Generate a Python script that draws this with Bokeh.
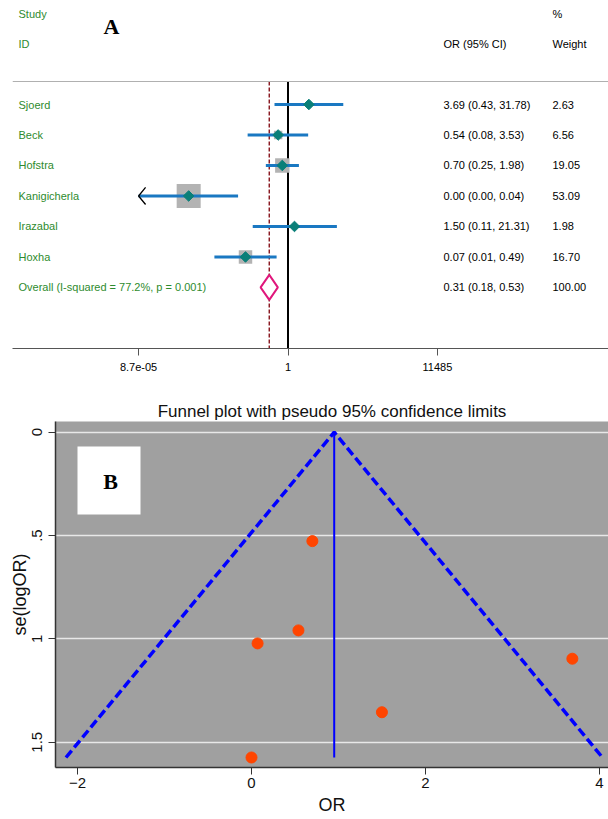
import math
from bokeh.plotting import figure
from bokeh.models import Range1d, FixedTicker, CustomJSTickFormatter, Span
from bokeh.layouts import column
from bokeh.embed import file_html
from bokeh.resources import INLINE
from bokeh.core.properties import value

# ---------------- data ----------------
studies = ["Sjoerd", "Beck", "Hofstra", "Kanigicherla", "Irazabal", "Hoxha"]
odds_ratio = [3.69, 0.54, 0.70, 0.002, 1.50, 0.07]
ci_low = [0.43, 0.08, 0.25, 0.00005, 0.11, 0.01]
ci_high = [31.78, 3.53, 1.98, 0.044, 21.31, 0.49]
weight_pct = [2.63, 6.56, 19.05, 53.09, 1.98, 16.70]

overall_label = "Overall  (I-squared = 77.2%, p = 0.001)"
overall_or = 0.31
overall_low = 0.18
overall_high = 0.53
overall_weight = 100.00

forest_ticks = [8.7e-05, 1, 11485]
forest_tick_labels = ["8.7e-05", "1", "11485"]

funnel_or = [3.69, 0.54, 0.70, 0.00, 1.50, 0.07]
funnel_se = [1.096, 0.959, 0.527, 1.574, 1.355, 1.022]
funnel_xticks = [-2, 0, 2, 4]
funnel_yticks = [0, 0.5, 1, 1.5]
funnel_ytick_labels = ["0", ".5", "1", "1.5"]

# ---------------- styles ----------------
SANS = value("Liberation Sans")
SERIF = value("Liberation Serif")
GREEN = "#2e8b2e"
CI_BLUE = "#1a78c2"
TEAL = "#0a7f78"
BOX_GREY = "#b3b3b3"
PINK = "#e0177c"
DARKRED = "#8b1c24"

# layout helpers (page pixel -> data coordinate)
F_ONE_PX = 287.5
F_PX_DEC = 36.8
F_ROW0 = 104.0
F_ROW = 30.49


def fx(px):
    return 10 ** ((px - F_ONE_PX) / F_PX_DEC)


def fy(py):
    return (py - F_ROW0) / F_ROW


# ---------------- forest plot (A) ----------------
p1 = figure(width=608, height=385, x_axis_type="log",
            x_range=Range1d(fx(12), fx(608)), y_range=Range1d(fy(348), fy(8)),
            output_backend="svg", toolbar_location=None,
            min_border_left=12, min_border_right=0, min_border_top=8, min_border_bottom=37,
            y_axis_location=None, outline_line_color=None)
p1.frame_align = False
p1.grid.visible = False

rows = list(range(len(studies)))
overall_row = len(studies)
sep_row = fy(81)
axis_row = fy(348)

p1.add_layout(Span(location=sep_row, dimension="width", line_color="#b0b0b0", line_width=1))
p1.segment(x0=[1], y0=[sep_row], x1=[1], y1=[axis_row], line_color="black", line_width=2)
p1.segment(x0=[overall_or], y0=[sep_row], x1=[overall_or], y1=[axis_row],
           line_color=DARKRED, line_width=1.5, line_dash="4 2")

# weight boxes
wmax = max(weight_pct)
box_sizes = [24 * math.sqrt(w / wmax) for w in weight_pct]
p1.scatter(odds_ratio, rows, marker="square", size=box_sizes, fill_color=BOX_GREY, line_color=None)

# CI lines (clipped to axis range)
xmin = forest_ticks[0]
lo_draw = [max(l, xmin) for l in ci_low]
p1.segment(x0=lo_draw, y0=rows, x1=ci_high, y1=rows, line_color=CI_BLUE, line_width=3)

# arrows for clipped CIs
arm = 10 ** (7 / F_PX_DEC)
ax, ay = [], []
for l, r in zip(ci_low, rows):
    if l < xmin:
        ax.append([xmin * arm, xmin, xmin * arm])
        ay.append([r - 0.28, r, r + 0.28])
if ax:
    p1.multi_line(ax, ay, line_color="black", line_width=1.3)

# point estimates
p1.scatter(odds_ratio, rows, marker="square", angle=math.pi / 4, size=7.5,
           fill_color=TEAL, line_color=TEAL)

# overall diamond
dh = 12.5 / F_ROW
p1.patch([overall_low, overall_or, overall_high, overall_or],
         [overall_row, overall_row - dh, overall_row, overall_row + dh],
         fill_color="white", line_color=PINK, line_width=2)

# texts
tstyle = dict(text_font=SANS, text_font_size="11px", text_baseline="middle", text_align="left")
p1.text(x=[fx(18)] * 2, y=[fy(13), fy(43)], text=["Study", "ID"], text_color=GREEN, **tstyle)
p1.text(x=[fx(443), fx(552), fx(552)], y=[fy(43), fy(13), fy(43)],
        text=["OR (95% CI)", "%", "Weight"], text_color="black", **tstyle)
p1.text(x=[fx(18)] * (len(studies) + 1), y=rows + [overall_row],
        text=studies + [overall_label], text_color=GREEN, **tstyle)
ci_txt = [f"{o:.2f} ({l:.2f}, {h:.2f})" for o, l, h in zip(odds_ratio, ci_low, ci_high)]
ci_txt.append(f"{overall_or:.2f} ({overall_low:.2f}, {overall_high:.2f})")
w_txt = [f"{w:.2f}" for w in weight_pct] + [f"{overall_weight:.2f}"]
p1.text(x=[fx(443)] * len(ci_txt), y=rows + [overall_row], text=ci_txt, text_color="black", **tstyle)
p1.text(x=[fx(552)] * len(w_txt), y=rows + [overall_row], text=w_txt, text_color="black", **tstyle)
p1.text(x=[fx(111)], y=[fy(26)], text=["A"], text_font=SERIF, text_font_style="bold",
        text_font_size="22px", text_align="center", text_baseline="middle", text_color="black")

xa = p1.xaxis[0]
xa.ticker = FixedTicker(ticks=forest_ticks, minor_ticks=[])
xa.formatter = CustomJSTickFormatter(args=dict(tv=forest_ticks, tl=forest_tick_labels), code="""
let best = 0, bd = Infinity;
for (let i = 0; i < tv.length; i++) {
  const d = Math.abs(Math.log(tick) - Math.log(tv[i]));
  if (d < bd) { bd = d; best = i; }
}
return tl[best];
""")
xa.axis_line_color = "#555555"
xa.major_tick_line_color = "#555555"
xa.major_tick_out = 7
xa.major_tick_in = 0
xa.minor_tick_line_color = None
xa.major_label_text_font = "Liberation Sans"
xa.major_label_text_font_size = "11px"
xa.major_label_text_color = "black"
xa.major_label_standoff = 7

# ---------------- funnel plot (B) ----------------
TOP2 = 385
G_ZERO_X = 251.0
G_PX_X = 86.95
G_ZERO_Y = 431.7
G_PX_Y = 206.67


def gx(px):
    return (px - G_ZERO_X) / G_PX_X


def gy(py):
    return (py - G_ZERO_Y) / G_PX_Y


p2 = figure(width=608, height=434,
            x_range=Range1d(gx(55), gx(608)), y_range=Range1d(gy(767), gy(421)),
            output_backend="svg", toolbar_location=None,
            min_border_left=55, min_border_right=0, min_border_top=421 - TOP2, min_border_bottom=819 - 767,
            background_fill_color="#a0a0a0", border_fill_color="white",
            outline_line_color=None)
p2.frame_align = False
p2.title.text = "Funnel plot with pseudo 95% confidence limits"
p2.title.align = "center"
p2.title.text_font = "Liberation Sans"
p2.title.text_font_size = "17px"
p2.title.text_font_style = "normal"
p2.title.text_color = "#111111"
p2.title.standoff = 2

p2.xgrid.visible = False
p2.ygrid.ticker = FixedTicker(ticks=funnel_yticks)
p2.ygrid.grid_line_color = "#e8e8e8"
p2.ygrid.grid_line_width = 1.5

for ax_ in (p2.xaxis[0], p2.yaxis[0]):
    ax_.axis_line_color = "#333333"
    ax_.axis_line_width = 1.5
    ax_.major_tick_line_color = "#333333"
    ax_.major_tick_out = 7
    ax_.major_tick_in = 0
    ax_.minor_tick_line_color = None
    ax_.major_label_text_font = "Liberation Sans"
    ax_.major_label_text_font_size = "15px"
    ax_.major_label_text_color = "#111111"
    ax_.axis_label_text_font = "Liberation Sans"
    ax_.axis_label_text_font_size = "18px"
    ax_.axis_label_text_font_style = "normal"
    ax_.axis_label_text_color = "#111111"

p2.xaxis.ticker = FixedTicker(ticks=funnel_xticks)
p2.xaxis.major_label_standoff = 3
p2.xaxis.axis_label = "OR"
p2.xaxis.axis_label_standoff = 4

p2.yaxis.ticker = FixedTicker(ticks=funnel_yticks)
p2.yaxis.major_label_overrides = {t: s for t, s in zip(funnel_yticks, funnel_ytick_labels)}
p2.yaxis.major_label_orientation = "vertical"
p2.yaxis.major_label_standoff = 6
p2.yaxis.axis_label = "se(logOR)"
p2.yaxis.axis_label_standoff = 0

# B box
p2.quad(left=[gx(77)], right=[gx(140)], top=[gy(446)], bottom=[gy(514)],
        fill_color="white", line_color=None)
p2.text(x=[gx(110)], y=[gy(481)], text=["B"], text_font=SERIF, text_font_style="bold",
        text_font_size="22px", text_align="center", text_baseline="middle", text_color="black")

# pseudo 95% limits
wts = [1 / s ** 2 for s in funnel_se]
theta = sum(w * o for w, o in zip(wts, funnel_or)) / sum(wts)
semax = max(funnel_se)
p2.line([theta - 1.96 * semax, theta, theta + 1.96 * semax], [semax, 0, semax],
        line_color="#0000ff", line_width=3.5, line_dash="9 4")
p2.segment(x0=[theta], y0=[0], x1=[theta], y1=[semax], line_color="#0000ff", line_width=2)

p2.scatter(funnel_or, funnel_se, size=11, fill_color="#ff4500", line_color="#ff4500")

layout = column(p1, p2)
open("out.html", "w").write(file_html(layout, INLINE))
